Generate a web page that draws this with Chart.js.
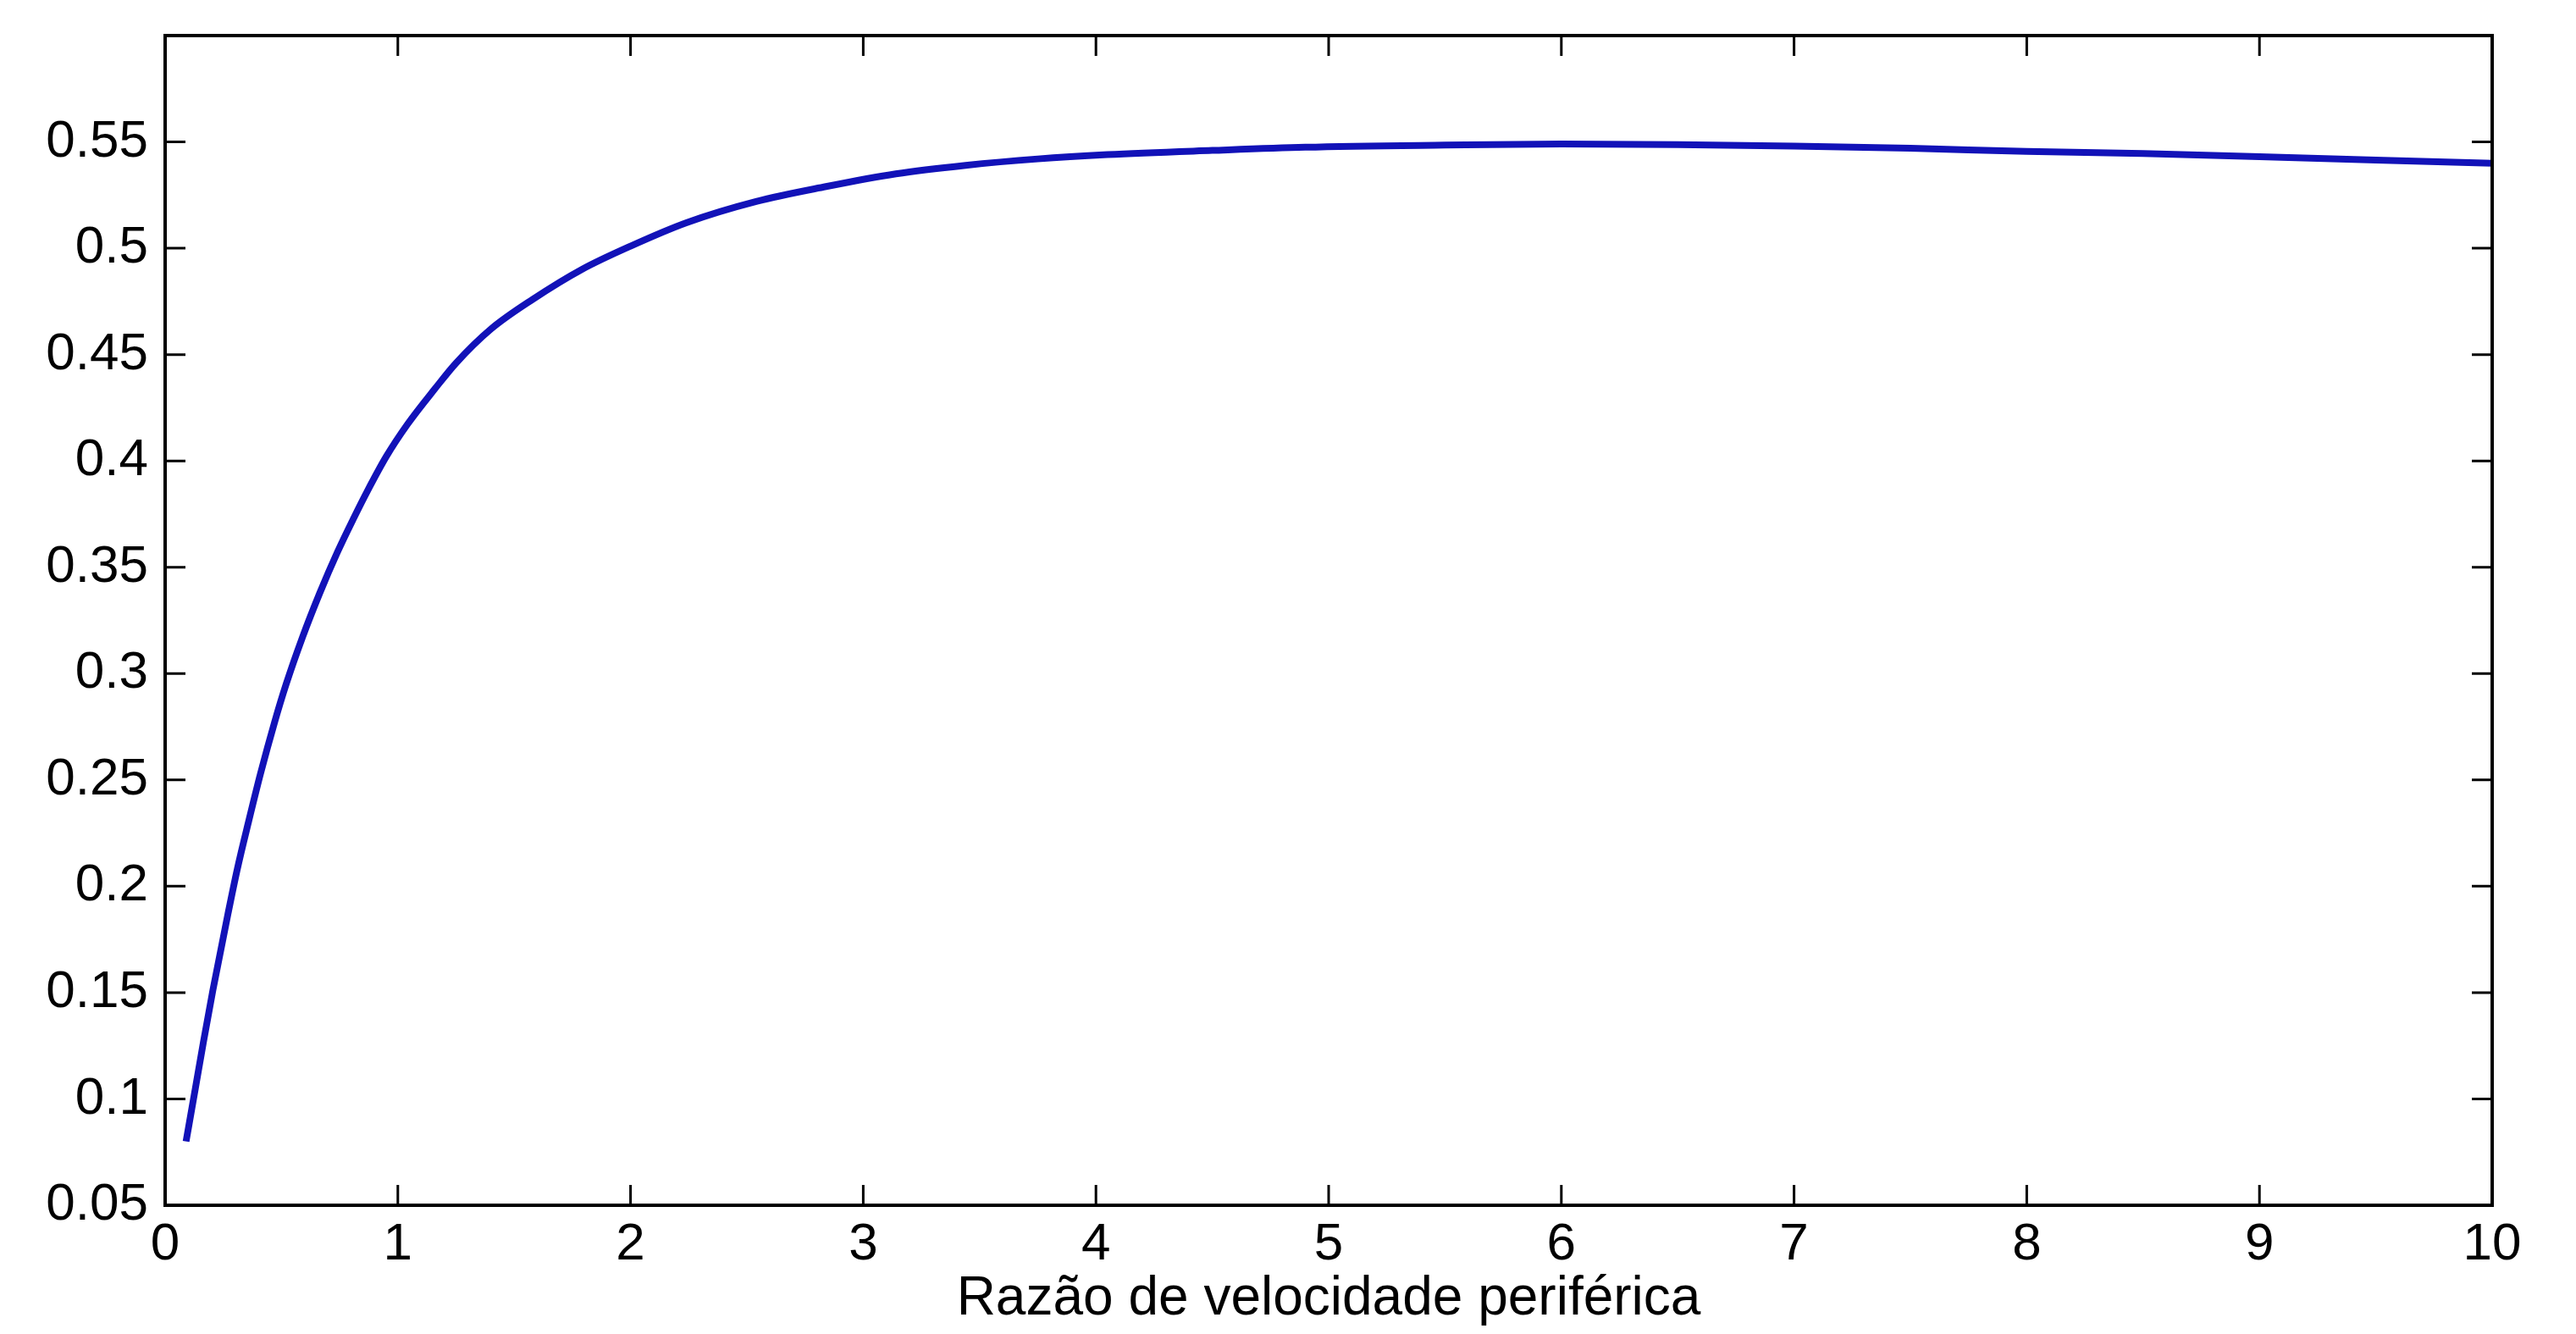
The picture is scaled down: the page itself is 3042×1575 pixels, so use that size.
<!DOCTYPE html>
<html>
<head>
<meta charset="utf-8">
<script src="https://cdn.jsdelivr.net/npm/chart.js@4"></script>
<style>
  html, body { margin: 0; padding: 0; background: #fff; }
  #wrap { width: 3042px; height: 1575px; position: relative; }
</style>
</head>
<body>
<div id="wrap"><canvas id="cpChart"></canvas></div>
<script>
// tip speed ratio vs power coefficient
const tsr = [0.09, 0.13, 0.165, 0.205, 0.27, 0.31, 0.36, 0.41, 0.47, 0.52, 0.59, 0.665, 0.74, 0.81,
    0.87, 0.95, 1.04, 1.16, 1.25, 1.40, 1.58, 1.79, 2.0, 2.24, 2.54, 2.84, 3.14, 3.44, 3.75, 4.05,
    4.5, 4.9, 5.5, 6.0, 6.5, 7.0, 7.5, 8.0, 8.5, 9.0, 9.5, 10];
const cp = [0.080, 0.105, 0.127, 0.151, 0.187, 0.208, 0.231, 0.253, 0.277, 0.295, 0.317, 0.338, 0.357, 0.373,
    0.386, 0.402, 0.417, 0.434, 0.446, 0.462, 0.476, 0.490, 0.501, 0.512, 0.522, 0.529, 0.535, 0.539, 0.542, 0.544,
    0.546, 0.5475, 0.5485, 0.549, 0.5487, 0.548, 0.547, 0.5455, 0.5445, 0.543, 0.5415, 0.540];

const xTicks = [0, 1, 2, 3, 4, 5, 6, 7, 8, 9, 10];
const yTicks = [0.05, 0.1, 0.15, 0.2, 0.25, 0.3, 0.35, 0.4, 0.45, 0.5, 0.55];
const yTickLabels = ['0.05', '0.1', '0.15', '0.2', '0.25', '0.3', '0.35', '0.4', '0.45', '0.5', '0.55'];
const xTitle = 'Razão de velocidade periférica';

const FONT = 'Liberation Sans, Arial, Helvetica, sans-serif';

// matlab style box with inward ticks on all four sides
const boxPlugin = {
    id: 'box',
    afterDatasetsDraw(chart) {
        const { ctx, chartArea: a, scales: { x, y } } = chart;
        const len = 24;
        ctx.save();
        ctx.strokeStyle = '#000';
        ctx.lineWidth = 3;
        ctx.beginPath();
        xTicks.forEach(v => {
            const px = x.getPixelForValue(v);
            ctx.moveTo(px, a.bottom); ctx.lineTo(px, a.bottom - len);
            ctx.moveTo(px, a.top); ctx.lineTo(px, a.top + len);
        });
        yTicks.forEach(v => {
            const py = y.getPixelForValue(v);
            ctx.moveTo(a.left, py); ctx.lineTo(a.left + len, py);
            ctx.moveTo(a.right, py); ctx.lineTo(a.right - len, py);
        });
        ctx.stroke();
        ctx.lineWidth = 4;
        ctx.strokeRect(a.left, a.top, a.right - a.left, a.bottom - a.top);
        ctx.restore();
    }
};

new Chart(document.getElementById('cpChart'), {
    type: 'line',
    data: {
        datasets: [{
            data: tsr.map((v, i) => ({ x: v, y: cp[i] })),
            borderColor: '#1212b8',
            borderWidth: 8,
            pointRadius: 0,
            cubicInterpolationMode: 'monotone',
            fill: false
        }]
    },
    options: {
        responsive: true,
        maintainAspectRatio: false,
        animation: false,
        layout: { padding: { top: 42, right: 99, left: 0, bottom: 0 } },
        plugins: {
            legend: { display: false },
            tooltip: { enabled: false }
        },
        scales: {
            x: {
                type: 'linear',
                min: 0,
                max: 10,
                grid: { display: false, drawTicks: false },
                border: { display: false },
                afterBuildTicks: s => { s.ticks = xTicks.map(v => ({ value: v })); },
                afterFit: s => { s.height = 152; s.paddingLeft = 0; s.paddingRight = 0; },
                ticks: {
                    color: '#000',
                    padding: 10,
                    maxRotation: 0,
                    autoSkip: false,
                    font: { family: FONT, size: 62 },
                    callback: v => String(v)
                },
                title: {
                    display: true,
                    text: xTitle,
                    color: '#000',
                    padding: { top: 0, bottom: 2 },
                    font: { family: FONT, size: 64 }
                }
            },
            y: {
                min: 0.05,
                max: 0.6,
                grid: { display: false, drawTicks: false },
                border: { display: false },
                afterBuildTicks: s => { s.ticks = yTicks.map(v => ({ value: v })); },
                afterFit: s => { s.width = 195; s.paddingTop = 0; s.paddingBottom = 0; },
                ticks: {
                    color: '#000',
                    padding: 20,
                    autoSkip: false,
                    font: { family: FONT, size: 62 },
                    callback: (v, i) => yTickLabels[i]
                }
            }
        }
    },
    plugins: [boxPlugin]
});
</script>
</body>
</html>
